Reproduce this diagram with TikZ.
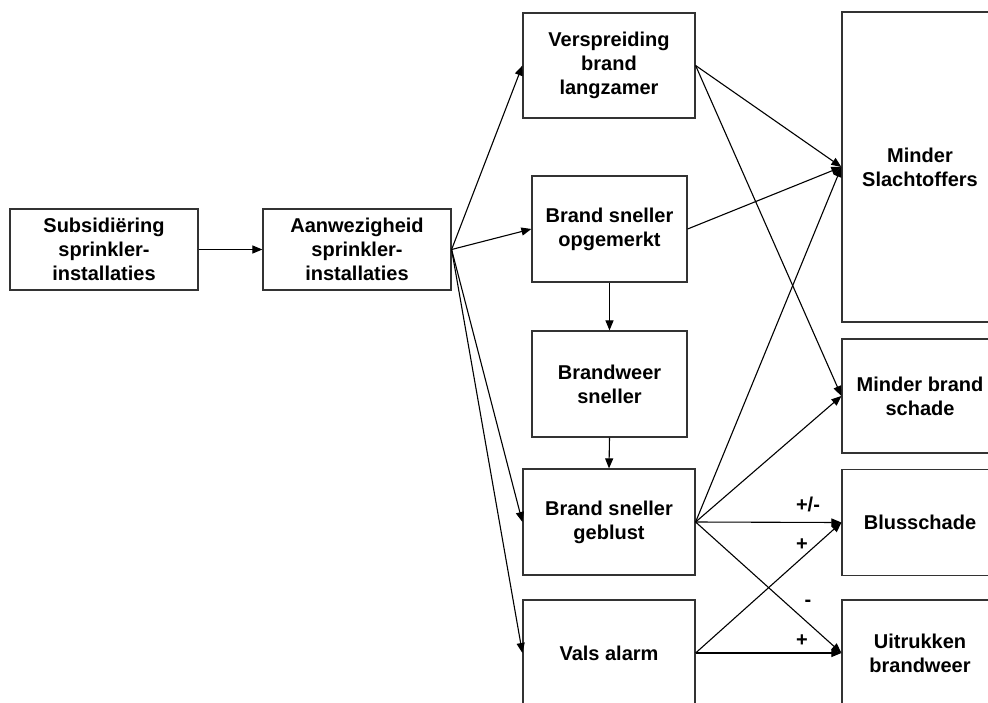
\documentclass[tikz,border=0pt]{standalone}
\usepackage{fontspec}
\setmainfont{Liberation Sans}
\usetikzlibrary{arrows.meta}
\begin{document}
\begin{tikzpicture}[x=1pt,y=-1pt,
  box/.style={draw=black!80, line width=1.2pt, align=center, inner sep=0pt,
    font=\fontsize{20}{24}\selectfont\bfseries},
  arr/.style={-{Triangle[length=10pt,width=8pt]}, line width=1.1pt},
  lab/.style={font=\fontsize{20}{24}\selectfont\bfseries, inner sep=0pt}]
\useasboundingbox (0,0) rectangle (988,702);
\clip (0,0) rectangle (988,702);
\fill[white] (0,0) rectangle (988,702);

\node[box, minimum width=188pt, minimum height=81pt] (sub) at (104,249.5) {Subsidiëring\\sprinkler-\\installaties};
\node[box, minimum width=188pt, minimum height=81pt] (aan) at (357,249.5) {Aanwezigheid\\sprinkler-\\installaties};

\node[box, minimum width=172pt, minimum height=105pt] (ver) at (609,65.5) {Verspreiding\\brand\\langzamer};
\node[box, minimum width=155pt, minimum height=106pt] (opg) at (609.5,229) {Brand sneller\\opgemerkt};
\node[box, minimum width=155pt, minimum height=106pt] (bw) at (609.5,384) {Brandweer\\sneller};
\node[box, minimum width=172pt, minimum height=106pt] (geb) at (609,522) {Brand sneller\\geblust};
\node[box, minimum width=172pt, minimum height=106pt] (vals) at (609,653) {Vals alarm};

\node[box, minimum width=156pt, minimum height=310pt] (ms) at (920,167) {Minder\\Slachtoffers};
\node[box, minimum width=156pt, minimum height=114pt] (mbs) at (920,396) {Minder brand\\schade};
\node[box, minimum width=156pt, minimum height=106pt] (blus) at (920,522.5) {Blusschade};
\node[box, minimum width=156pt, minimum height=106pt] (uit) at (920,653) {Uitrukken\\brandweer};

\draw[arr] (sub.east) -- (aan.west);
\draw[arr] (aan.east) -- (ver.west);
\draw[arr] (aan.east) -- (opg.west);
\draw[arr] (aan.east) -- (geb.west);
\draw[arr] (aan.east) -- (vals.west);
\draw[arr] (opg.south) -- (bw.north);
\draw[arr] (bw.south) -- (geb.north);
\draw[arr] (ver.east) -- (ms.west);
\draw[arr] (ver.east) -- (mbs.west);
\draw[arr] (opg.east) -- (ms.west);
\draw[arr] (geb.east) -- (ms.west);
\draw[arr] (geb.east) -- (mbs.west);
\draw[arr] (geb.east) -- (blus.west);
\draw[arr] (geb.east) -- (uit.west);
\draw[arr] (vals.east) -- (blus.west);
\draw[arr] (vals.east) -- (uit.west);

\node[lab] (l1) at (808,504) {+/-};
\node[lab] (l2) at (802,545) {+};
\node[lab] (l3) at (808,603) {-};
\node[lab] (l4) at (802,641) {+};
\end{tikzpicture}
\end{document}
